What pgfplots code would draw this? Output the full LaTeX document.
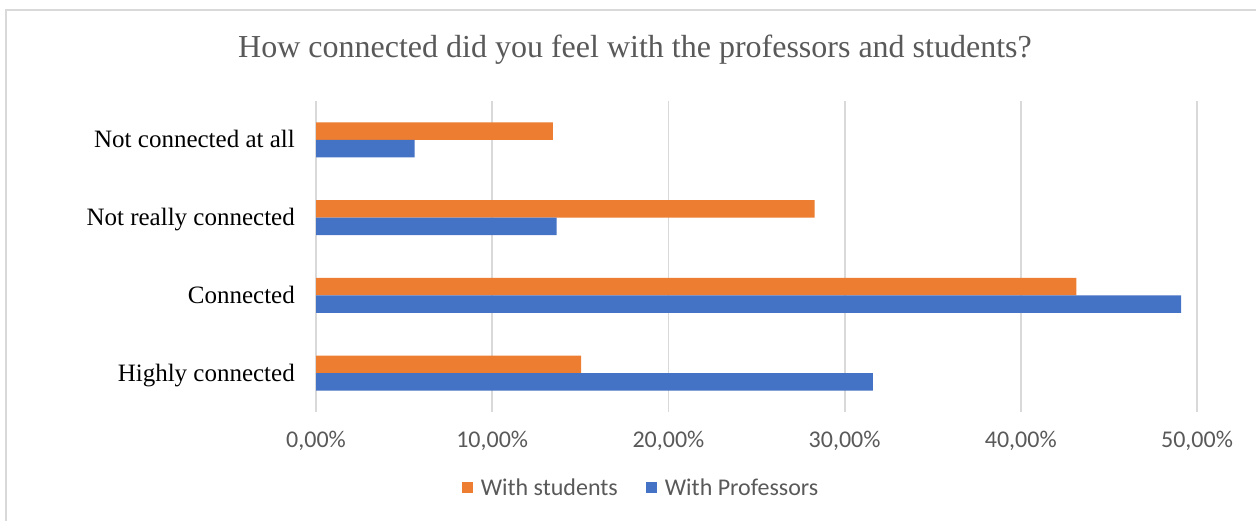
\documentclass[border=0pt]{standalone}
\usepackage{fontspec}
\usepackage{pgfplots}
\pgfplotsset{compat=1.18}
\newfontfamily\carlito{Carlito}
\newfontfamily\lserif{Liberation Serif}
\definecolor{barorange}{RGB}{237,125,49}
\definecolor{barblue}{RGB}{68,114,196}
\definecolor{gridgray}{RGB}{217,217,217}
\definecolor{txtgray}{RGB}{89,89,89}
\definecolor{framegray}{RGB}{217,217,217}
\begin{document}
\begin{tikzpicture}[x=1pt,y=1pt]
\useasboundingbox (0,0) rectangle (1256,521);
\draw[framegray, line width=1.5pt] (6,0) -- (6,511) -- (1256,511);
\node[text=txtgray, font=\lserif\fontsize{32}{35}\selectfont] at (635,471) {How connected did you feel with the professors and students?};
\begin{axis}[
  at={(316pt,109pt)}, anchor=south west,
  scale only axis, width=881pt, height=311pt,
  xmin=0, xmax=50, ymin=-0.5, ymax=3.5,
  axis line style={draw=none},
  major tick length=0pt,
  xmajorgrids, major grid style={gridgray, line width=1.8pt},
  xtick={0,10,20,30,40,50},
  xticklabels={{0,00\%},{10,00\%},{20,00\%},{30,00\%},{40,00\%},{50,00\%}},
  xticklabel style={font=\carlito\fontsize{24}{27}\selectfont, text=txtgray, anchor=base, inner sep=0pt, yshift=-36pt},
  ytick={0,1,2,3},
  yticklabels={Highly connected, Connected, Not really connected, Not connected at all},
  yticklabel style={font=\lserif\fontsize{25}{28}\selectfont, text=black, anchor=base east, inner sep=0pt, xshift=-21pt, yshift=-8pt},
  xbar, bar width=17.5pt,
  legend columns=2,
  legend style={at={(0.3678,-0.2412)}, anchor=center, draw=none, fill=none,
    font=\carlito\fontsize{24}{27}\selectfont, text=txtgray,
    /tikz/every even column/.append style={column sep=28pt},
    nodes={inner sep=0pt, text depth=0pt}},
  legend image code/.code={\fill[#1] (0pt,-5.5pt) rectangle (11pt,5.5pt);},
  legend style={/tikz/every odd column/.append style={column sep=8pt}},
]
\addplot[fill=barorange, draw=none, bar shift=8.75pt] coordinates {
(15.05,0) (43.15,1) (28.3,2) (13.45,3)
};
\addlegendentry{With students}
\addplot[fill=barblue, draw=none, bar shift=-8.75pt] coordinates {
(31.6,0) (49.1,1) (13.65,2) (5.6,3)
};
\addlegendentry{With Professors}
\end{axis}
\end{tikzpicture}
\end{document}
